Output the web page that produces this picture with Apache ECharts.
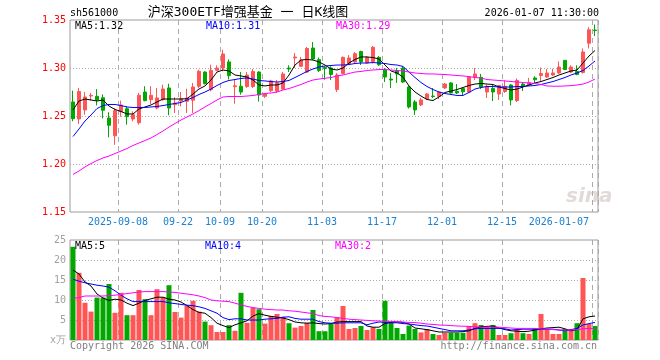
<!DOCTYPE html>
<html><head><meta charset="utf-8">
<script src="https://cdn.jsdelivr.net/npm/echarts@6/dist/echarts.min.js"></script>
<style>html,body{margin:0;padding:0;background:#fff}#c{width:660px;height:360px}</style>
</head><body><div id="c"></div>
<script>
// ---------- data ----------
const dates = ['2025-08-27','2025-08-28','2025-08-29','2025-09-01','2025-09-02','2025-09-03','2025-09-04','2025-09-05',
'2025-09-08','2025-09-09','2025-09-10','2025-09-11','2025-09-12','2025-09-15','2025-09-16','2025-09-17','2025-09-18','2025-09-19',
'2025-09-22','2025-09-23','2025-09-24','2025-09-25','2025-09-26','2025-09-29','2025-09-30',
'2025-10-09','2025-10-10','2025-10-13','2025-10-14','2025-10-15','2025-10-16','2025-10-17',
'2025-10-20','2025-10-21','2025-10-22','2025-10-23','2025-10-24','2025-10-27','2025-10-28','2025-10-29','2025-10-30','2025-10-31',
'2025-11-03','2025-11-04','2025-11-05','2025-11-06','2025-11-07','2025-11-10','2025-11-11','2025-11-12','2025-11-13','2025-11-14',
'2025-11-17','2025-11-18','2025-11-19','2025-11-20','2025-11-21','2025-11-24','2025-11-25','2025-11-26','2025-11-27','2025-11-28',
'2025-12-01','2025-12-02','2025-12-03','2025-12-04','2025-12-05','2025-12-08','2025-12-09','2025-12-10','2025-12-11','2025-12-12',
'2025-12-15','2025-12-16','2025-12-17','2025-12-18','2025-12-19','2025-12-22','2025-12-23','2025-12-24','2025-12-25','2025-12-26','2025-12-29','2025-12-30','2025-12-31',
'2026-01-05','2026-01-06','2026-01-07'];

const tickIndex  = [8, 18, 25, 32, 42, 52, 62, 72, 87];
const tickLabels = ['2025-09-08','09-22','10-09','10-20','11-03','11-17','12-01','12-15','2026-01-07'];

const opens = [1.2646,1.2469,1.2563,1.2708,1.2705,1.2690,1.2479,1.2294,1.2545,1.2576,
1.2469,1.2430,1.2750,1.2670,1.2583,1.2670,1.2792,1.2618,1.2656,1.2653,
1.2665,1.2809,1.2958,1.2774,1.2976,1.3000,1.3063,1.2805,1.2810,1.2807,
1.2807,1.2958,1.2705,1.2764,1.2760,1.2781,1.3000,1.3105,1.3018,1.2958,
1.3208,1.3087,1.3005,1.3000,1.2776,1.2943,1.3047,1.3063,1.3172,1.3052,
1.3068,1.3111,1.2979,1.2885,1.2972,1.3000,1.2802,1.2646,1.2615,1.2680,
1.2708,1.2705,1.2792,1.2844,1.2757,1.2787,1.2750,1.2901,1.2903,1.2750,
1.2787,1.2729,1.2755,1.2823,1.2661,1.2833,1.2823,1.2896,1.2922,1.2906,
1.2927,1.2948,1.3080,1.2958,1.2964,1.2953,1.3258,1.3395];
const closes = [1.2472,1.2755,1.2698,1.2715,1.2667,1.2560,1.2403,1.2555,1.2615,1.2493,
1.2514,1.2716,1.2660,1.2716,1.2688,1.2781,1.2583,1.2635,1.2680,1.2688,
1.2802,1.2966,1.2836,1.2976,1.3000,1.3146,1.2920,1.2815,1.2750,1.2927,
1.2964,1.2719,1.2729,1.2865,1.2844,1.2938,1.2990,1.3115,1.3083,1.3203,
1.3094,1.2974,1.2995,1.2932,1.2927,1.3111,1.3104,1.3149,1.3063,1.3109,
1.3216,1.3034,1.2906,1.2875,1.2938,1.2854,1.2594,1.2563,1.2667,1.2729,
1.2703,1.2750,1.2833,1.2740,1.2740,1.2752,1.2906,1.2938,1.2802,1.2809,
1.2750,1.2818,1.2809,1.2667,1.2870,1.2807,1.2849,1.2878,1.2943,1.2948,
1.2948,1.3010,1.2984,1.3010,1.2932,1.3167,1.3398,1.3390];
const lows = [1.2445,1.2417,1.2514,1.2660,1.2610,1.2475,1.2278,1.2200,1.2493,1.2409,
1.2445,1.2410,1.2653,1.2625,1.2570,1.2660,1.2507,1.2531,1.2600,1.2531,
1.2531,1.2790,1.2830,1.2757,1.2966,1.2966,1.2880,1.2628,1.2722,1.2792,
1.2792,1.2651,1.2688,1.2750,1.2740,1.2771,1.2958,1.3000,1.3010,1.2948,
1.3083,1.2958,1.2878,1.2875,1.2750,1.2932,1.3037,1.3047,1.3031,1.3047,
1.3047,1.3021,1.2854,1.2792,1.2844,1.2844,1.2578,1.2510,1.2604,1.2672,
1.2688,1.2677,1.2781,1.2734,1.2729,1.2719,1.2740,1.2875,1.2781,1.2688,
1.2656,1.2667,1.2740,1.2611,1.2646,1.2760,1.2813,1.2844,1.2854,1.2896,
1.2917,1.2938,1.2979,1.2948,1.2924,1.2943,1.3203,1.3333];
const highs = [1.2764,1.2792,1.2750,1.2740,1.2780,1.2725,1.2540,1.2580,1.2660,1.2601,
1.2549,1.2740,1.2810,1.2810,1.2792,1.2826,1.2836,1.2695,1.2750,1.2784,
1.2844,1.2983,1.2965,1.3034,1.3028,1.3191,1.3090,1.2878,1.2958,1.2958,
1.2990,1.2966,1.2740,1.2878,1.2875,1.2958,1.3028,1.3156,1.3115,1.3219,
1.3271,1.3110,1.3018,1.3018,1.2948,1.3120,1.3135,1.3167,1.3180,1.3125,
1.3229,1.3125,1.3000,1.2948,1.3000,1.3016,1.2813,1.2667,1.2688,1.2740,
1.2792,1.2760,1.2844,1.2854,1.2833,1.2792,1.2917,1.3000,1.2938,1.2826,
1.2833,1.2823,1.2870,1.2833,1.2891,1.2854,1.2896,1.2914,1.3005,1.2990,
1.2993,1.3068,1.3083,1.3028,1.3028,1.3203,1.3424,1.3453];

const ma5 = [1.2563,1.2656,1.2677,1.2667,1.2656,1.2667,1.2604,1.2568,1.2547,1.2521,
1.2521,1.2573,1.2594,1.2615,1.2646,1.2677,1.2677,1.2677,1.2677,1.2680,
1.2729,1.2781,1.2813,1.2875,1.2958,1.2979,1.2969,1.2927,1.2917,1.2906,
1.2875,1.2823,1.2813,1.2823,1.2823,1.2844,1.2927,1.3031,1.3083,1.3089,
1.3083,1.3063,1.3031,1.2990,1.2979,1.3000,1.3052,1.3089,1.3115,1.3115,
1.3109,1.3094,1.3031,1.2969,1.2948,1.2906,1.2813,1.2750,1.2708,1.2672,
1.2661,1.2698,1.2745,1.2760,1.2776,1.2797,1.2818,1.2833,1.2839,1.2833,
1.2828,1.2802,1.2786,1.2771,1.2781,1.2802,1.2823,1.2844,1.2859,1.2880,
1.2901,1.2927,1.2948,1.2969,1.2979,1.3052,1.3125,1.3182];
const ma10 = [1.2286,1.2365,1.2448,1.2510,1.2578,1.2609,1.2620,1.2620,1.2609,1.2594,
1.2589,1.2589,1.2589,1.2594,1.2599,1.2609,1.2620,1.2630,1.2641,1.2667,
1.2693,1.2724,1.2750,1.2781,1.2818,1.2849,1.2870,1.2880,1.2891,1.2896,
1.2885,1.2870,1.2865,1.2859,1.2854,1.2859,1.2870,1.2901,1.2932,1.2964,
1.2990,1.3010,1.3021,1.3026,1.3031,1.3031,1.3036,1.3047,1.3052,1.3052,
1.3057,1.3052,1.3047,1.3036,1.3031,1.3016,1.2958,1.2901,1.2849,1.2807,
1.2776,1.2750,1.2734,1.2724,1.2714,1.2714,1.2745,1.2781,1.2797,1.2807,
1.2807,1.2802,1.2802,1.2802,1.2807,1.2807,1.2813,1.2818,1.2828,1.2844,
1.2859,1.2880,1.2901,1.2927,1.2948,1.2974,1.3021,1.3073];
const ma30 = [1.1891,1.1927,1.1969,1.2005,1.2036,1.2063,1.2083,1.2109,1.2135,1.2161,
1.2193,1.2219,1.2245,1.2271,1.2307,1.2344,1.2385,1.2422,1.2458,1.2490,
1.2521,1.2557,1.2594,1.2630,1.2667,1.2698,1.2703,1.2703,1.2703,1.2708,
1.2714,1.2724,1.2734,1.2740,1.2750,1.2771,1.2786,1.2807,1.2828,1.2854,
1.2875,1.2885,1.2893,1.2901,1.2917,1.2927,1.2943,1.2958,1.2964,1.2974,
1.2979,1.2984,1.2984,1.2979,1.2974,1.2969,1.2958,1.2948,1.2943,1.2938,
1.2938,1.2935,1.2932,1.2927,1.2922,1.2917,1.2910,1.2901,1.2896,1.2880,
1.2875,1.2870,1.2865,1.2859,1.2854,1.2849,1.2844,1.2839,1.2828,1.2813,
1.2810,1.2810,1.2813,1.2816,1.2823,1.2833,1.2854,1.2885];

// volume in 万
const volumes = [23.3,16.8,9.3,7.1,10.6,10.6,14.0,6.8,11.8,6.2,
6.2,12.5,10.2,6.2,12.7,10.7,13.7,7.0,5.6,8.6,
9.8,7.1,4.6,3.7,2.0,2.0,3.7,2.3,11.8,4.3,
8.1,7.7,4.1,6.0,6.5,5.8,4.2,3.1,3.5,4.3,
7.5,2.2,2.2,4.0,5.7,8.5,2.75,3.0,3.5,2.5,
3.2,2.75,9.8,4.3,3.0,1.5,3.6,2.75,1.9,2.75,
1.5,1.25,1.8,1.8,1.8,1.8,3.5,4.2,3.75,3.2,
3.75,1.25,1.25,1.7,2.75,1.7,1.5,3.0,6.5,2.75,
1.5,1.5,2.75,2.3,4.2,15.5,4.0,3.5];
const volMa5 = [17.5,16.5,14.5,13.5,11.5,10.5,9.9,10.2,10.0,9.2,
8.6,9.2,9.9,10.3,10.7,10.7,10.2,10.0,9.5,8.6,
7.6,6.9,6.7,5.6,4.2,3.6,3.1,3.8,4.3,4.8,
6.0,6.6,6.2,5.9,5.7,5.5,5.1,4.5,4.3,4.2,
4.3,4.1,4.0,4.1,4.5,4.6,4.6,4.6,4.6,3.5,
3.2,3.2,4.1,4.4,4.5,4.4,4.0,3.0,2.8,2.6,
2.3,2.0,2.0,2.0,2.0,2.1,2.3,2.9,3.3,3.4,
3.5,3.0,2.6,2.3,2.2,2.1,2.2,2.5,2.8,3.0,
3.1,3.2,2.8,2.3,2.6,5.3,5.8,6.0];
const volMa10 = [15.2,14.7,14.3,14.0,13.7,13.5,13.2,12.3,11.2,10.3,
9.6,9.6,9.6,9.6,9.6,9.6,9.3,9.1,8.9,8.7,
8.6,8.3,7.9,7.3,6.7,5.6,5.1,5.3,5.3,5.0,
5.0,5.0,5.2,5.3,5.4,5.7,5.8,5.4,5.2,5.2,
5.2,4.6,4.3,4.2,4.2,4.3,4.3,4.3,4.3,3.8,
4.2,4.5,4.4,4.3,4.3,4.1,4.0,3.8,3.6,3.5,
3.2,2.9,2.6,2.3,2.3,2.3,2.5,2.8,2.9,2.9,
2.9,2.9,2.8,2.5,2.6,2.7,2.7,2.7,2.7,2.7,
2.7,2.5,2.3,2.6,2.9,3.75,4.1,4.4];
const volMa30 = [10.4,10.6,11.0,11.0,11.0,11.0,11.1,11.2,11.4,11.6,
11.8,12.0,12.1,12.1,12.1,12.1,12.0,11.9,11.7,11.5,
11.3,11.0,10.6,10.0,9.8,9.7,9.6,9.2,8.8,8.4,
8.1,7.9,7.7,7.6,7.5,7.5,7.3,7.2,7.0,6.8,
6.6,6.1,5.9,5.8,5.6,5.4,5.2,5.1,5.0,4.9,
4.8,4.75,4.7,4.65,4.6,4.5,4.4,4.35,4.2,4.0,
3.9,3.75,3.7,3.6,3.5,3.45,3.4,3.3,3.2,3.2,
3.2,3.2,3.1,3.0,2.9,2.9,2.9,2.9,2.8,2.7,
2.6,2.5,2.5,2.5,2.6,2.8,2.9,2.9];

// ---------- styling ----------
const RED = '#ff5555', GREEN = '#00a800';
const MONO = '"DejaVu Sans Mono", monospace';
const GRID_C = '#9a9a9a';

const candleData = opens.map((o, i) => [o, closes[i], lows[i], highs[i]]);
const volData = volumes.map((v, i) => ({
  value: v,
  itemStyle: { color: closes[i] >= opens[i] ? RED : GREEN }
}));

const showTick = (idx) => tickIndex.indexOf(idx) >= 0;

function makeX(gridIndex, withLabels) {
  return {
    type: 'category', gridIndex, data: dates, boundaryGap: true,
    axisLine: { show: false }, axisTick: { show: false },
    axisPointer: { show: false },
    axisLabel: {
      show: withLabels, interval: (idx) => showTick(idx),
      formatter: (val, idx) => tickLabels[tickIndex.indexOf(idx)],
      color: '#1b80d0', fontFamily: MONO, fontSize: 10, margin: 5,
      padding: [0, 6, 0, 0], alignMaxLabel: 'right', hideOverlap: false
    },
    splitLine: { show: true, interval: (idx) => showTick(idx),
      lineStyle: { color: '#aaaaaa', width: 1, type: [5, 4] } }
  };
}

function maLine(name, data, color, xi, yi) {
  return { name, type: 'line', data, xAxisIndex: xi, yAxisIndex: yi,
    showSymbol: false, symbol: 'none', smooth: false, silent: true,
    lineStyle: { color, width: 1 }, z: 5 };
}

function txt(x, y, text, fill, font, align) {
  return { type: 'text', x, y, silent: true, z: 100,
    style: { text, fill, font, textAlign: align || 'left', align: align || 'left',
      textVerticalAlign: 'middle', verticalAlign: 'middle' } };
}
const F10 = '10px ' + MONO;

const chart = echarts.init(document.getElementById('c'), null, { renderer: 'canvas' });
chart.setOption({
  animation: false,
  backgroundColor: '#ffffff',
  grid: [
    { left: 70, top: 20, width: 528, height: 192, show: true, borderColor: GRID_C, borderWidth: 1, backgroundColor: 'transparent' },
    { left: 70, top: 240, width: 528, height: 100, show: true, borderColor: GRID_C, borderWidth: 1, backgroundColor: 'transparent' }
  ],
  xAxis: [makeX(0, true), makeX(1, false)],
  yAxis: [
    { type: 'value', gridIndex: 0, min: 1.15, max: 1.35, interval: 0.05, scale: true,
      axisLine: { show: false }, axisTick: { show: false },
      axisLabel: { color: '#ff0000', fontFamily: MONO, fontSize: 10, margin: 4,
        formatter: (v) => v.toFixed(2) },
      splitLine: { show: true, showMinLine: false, showMaxLine: false,
        lineStyle: { color: '#aaaaaa', width: 1, type: [1, 2] } } },
    { type: 'value', gridIndex: 1, min: 0, max: 25, interval: 5,
      axisLine: { show: false }, axisTick: { show: false },
      axisLabel: { color: '#a0a0a0', fontFamily: MONO, fontSize: 10, margin: 4,
        formatter: (v) => v === 0 ? 'x万' : String(v) },
      splitLine: { show: true, showMinLine: false, showMaxLine: false,
        lineStyle: { color: '#aaaaaa', width: 1, type: [1, 2] } } }
  ],
  series: [
    { name: 'K', type: 'candlestick', data: candleData, xAxisIndex: 0, yAxisIndex: 0,
      barWidth: 4, silent: true,
      itemStyle: { color: RED, color0: GREEN, borderColor: RED, borderColor0: GREEN, borderWidth: 1 } },
    maLine('MA5', ma5, '#000000', 0, 0),
    maLine('MA10', ma10, '#0000ff', 0, 0),
    maLine('MA30', ma30, '#ff00ff', 0, 0),
    { name: 'VOL', type: 'bar', data: volData, xAxisIndex: 1, yAxisIndex: 1,
      barWidth: 5, silent: true },
    maLine('VMA5', volMa5, '#000000', 1, 1),
    maLine('VMA10', volMa10, '#0000ff', 1, 1),
    maLine('VMA30', volMa30, '#ff00ff', 1, 1)
  ],
  graphic: [
    txt(70, 13, 'sh561000', '#000', F10),
    txt(248, 13, '沪深300ETF增强基金 一 日K线图', '#000', '13px "DejaVu Sans Mono", "Noto Sans CJK SC"', 'center'),
    txt(599, 13, '2026-01-07 11:30:00', '#000', F10, 'right'),
    txt(75, 26, 'MA5:1.32', '#000', F10),
    txt(206, 26, 'MA10:1.31', '#0000ff', F10),
    txt(336, 26, 'MA30:1.29', '#ff00ff', F10),
    txt(75, 246, 'MA5:5', '#000', F10),
    txt(205, 246, 'MA10:4', '#0000ff', F10),
    txt(335, 246, 'MA30:2', '#ff00ff', F10),
    txt(70, 346, 'Copyright 2026 SINA.COM', '#808080', F10),
    txt(597, 346, 'http://finance.sina.com.cn', '#808080', F10, 'right'),
    txt(566, 197, 'sina', 'rgba(190,170,170,0.45)', 'italic bold 20px "DejaVu Sans"')
  ]
});
</script></body></html>
